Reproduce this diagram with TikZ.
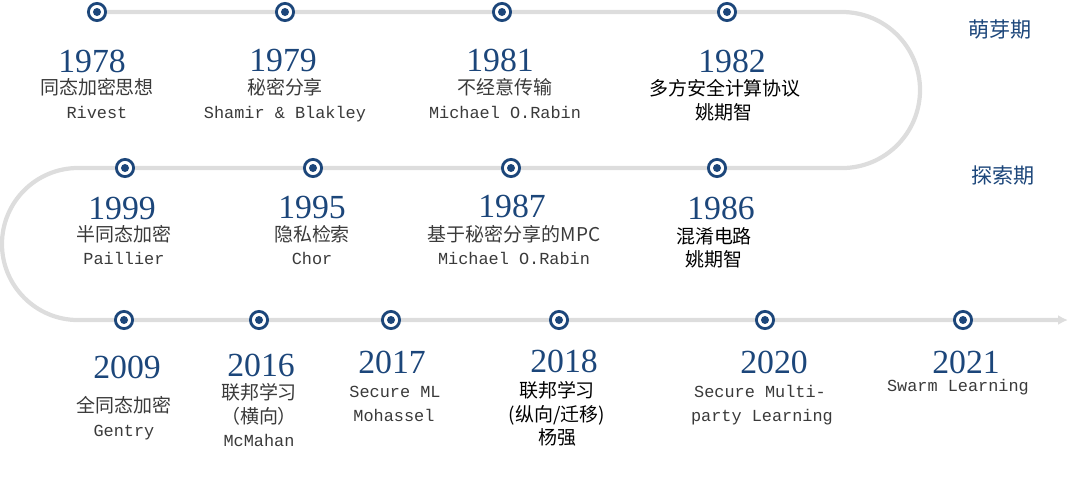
\documentclass[tikz,border=0pt]{standalone}
\usepackage{fontspec}
\setmainfont{Liberation Serif}
\setmonofont{Liberation Mono}
\newfontfamily\cjk{Noto Sans CJK SC}
\usetikzlibrary{arrows.meta,positioning}
\definecolor{MarkNavy}{RGB}{28,70,122}
\definecolor{TrackGray}{RGB}{221,221,221}
\definecolor{TextGray}{RGB}{58,58,58}
\tikzset{
  track/.style={line width=3pt,TrackGray,line cap=round,
    -{Latex[length=7pt,width=7pt]}},
  milestone/.style={circle,draw=MarkNavy,line width=2pt,fill=white,
    minimum size=0.43cm,inner sep=0pt,
    path picture={\fill[MarkNavy] (path picture bounding box.center) circle (0.1cm);}},
  yearlabel/.style={font=\fontsize{24}{24}\selectfont,text=MarkNavy,inner sep=0pt},
  cnserif/.style={font=\cjk\fontsize{13.5}{16}\selectfont,text=TextGray,inner sep=0pt,
    text height=0.8em,text depth=0.12em},
  cnbold/.style={font=\cjk\fontsize{13.5}{16}\selectfont,text=black,inner sep=0pt,
    text height=0.8em,text depth=0.12em},
  enline/.style={font=\ttfamily\fontsize{12}{14}\selectfont,text=TextGray,inner sep=0pt,
    text height=0.7em,text depth=0.1em},
  phase/.style={font=\cjk\fontsize{15}{15}\selectfont,text=MarkNavy,inner sep=0pt}
}
\begin{document}
\begin{tikzpicture}[x=0.025cm,y=-0.025cm]
  \useasboundingbox (0,0) rectangle (1080,481);
  % track
  \coordinate (bendR) at (842,12);
  \coordinate (bendL) at (78,168);
  \coordinate (tEnd) at (1068,320);
  \foreach \n/\x/\y in {1978/97/12,1979/285/12,1981/502/12,1982/727/12,
      1999/125/168,1995/313/168,1987/511/168,1986/717/168,
      2009/124/320,2016/259/320,2017/391/320,2018/559/320,2020/765/320,2021/963/320}{
    \coordinate (c\n) at (\x,\y);
  }
  \draw[track] (c1978) -- (bendR) arc[start angle=90,end angle=-90,radius=1.95cm]
    -- (bendL) arc[start angle=90,end angle=270,radius=1.9cm] -- (tEnd);
  \foreach \n in {1978,1979,1981,1982,1999,1995,1987,1986,2009,2016,2017,2018,2020,2021}{
    \node[milestone] (m\n) at (c\n) {};
  }
  % years
  \foreach \n/\x/\y in {1978/92/61,1979/283/60,1981/500/60,1982/732/61,
      1999/122/208,1995/312/207,1987/512/206,1986/721/208,
      2009/127/367,2016/261/365,2017/392/362,2018/564/361,2020/774/362,2021/966/362}{
    \node[yearlabel] (y\n) at (\x,\y) {\n};
  }
  % descriptions
  \foreach \n/\x/\y/\t in {a1978/97/90/同态加密思想,a1979/285/90/秘密分享,a1981/505/90/不经意传输,
      a1999/124/237/半同态加密,a1995/312/237/隐私检索,a1987/514/237/基于秘密分享的MPC,
      a2009/124/408/全同态加密,a2016/259/395/联邦学习,b2016/259/419/（横向）}{
    \node[cnserif] (\n) at (\x,\y) {\t};
  }
  \foreach \n/\x/\y/\t in {a1982/725/91/多方安全计算协议,b1982/724/115/姚期智,
      a1986/714/239/混淆电路,b1986/714/262/姚期智,
      a2018/557/393/联邦学习,b2018/557/417/{(纵向/迁移)},c2018/557/440/杨强}{
    \node[cnbold] (\n) at (\x,\y) {\t};
  }
  \foreach \n/\x/\y/\t in {b1978/97/114/Rivest,b1979/285/114/{Shamir \& Blakley},
      b1981/505/114/Michael O.Rabin,b1999/124/260/Paillier,b1995/312/260/Chor,
      b1987/514/260/Michael O.Rabin,b2009/124/432/Gentry,c2016/259/442/McMahan,
      a2017/395/393/Secure ML,b2017/394/417/Mohassel,
      a2020/760/393/Secure Multi-,b2020/762/417/party Learning,a2021/958/387/Swarm Learning}{
    \node[enline] (\n) at (\x,\y) {\t};
  }
  % phases
  \node[phase] (ph1) at (1000,30) {萌芽期};
  \node[phase] (ph2) at (1003,176) {探索期};
\end{tikzpicture}
\end{document}
